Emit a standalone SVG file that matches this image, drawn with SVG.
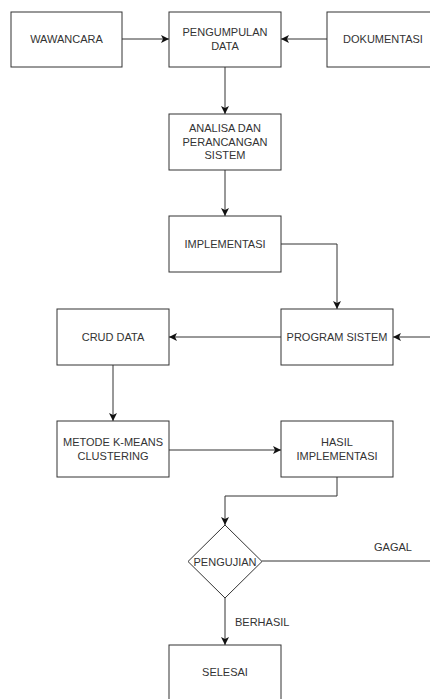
<svg xmlns="http://www.w3.org/2000/svg" width="430" height="699" viewBox="0 0 430 699">
<style>
.box{fill:#fff;stroke:#333;stroke-width:1}
.t{font-family:"Liberation Sans",Arial,sans-serif;font-size:11px;fill:#333;text-anchor:middle;dominant-baseline:central}
.c{fill:none;stroke:#333;stroke-width:1}
.lbl{font-family:"Liberation Sans",Arial,sans-serif;font-size:11px;fill:#333;dominant-baseline:central}
</style>
<defs>
<marker id="ah" viewBox="0 0 8 8" refX="8" refY="4" markerWidth="8" markerHeight="8" markerUnits="userSpaceOnUse" orient="auto">
<path d="M0,0 L8,4 L0,8 L2,4 Z" fill="#111"/>
</marker>
</defs>
<rect width="430" height="699" fill="#fff"/>
<g id="connectors">
<path class="c" d="M122,39 H169" marker-end="url(#ah)"/>
<path class="c" d="M327,39 H281" marker-end="url(#ah)"/>
<path class="c" d="M225,67 V114" marker-end="url(#ah)"/>
<path class="c" d="M225,170 V216" marker-end="url(#ah)"/>
<path class="c" d="M281,244 H337 V309" marker-end="url(#ah)"/>
<path class="c" d="M281,337 H169" marker-end="url(#ah)"/>
<path class="c" d="M430,337 H393" marker-end="url(#ah)"/>
<path class="c" d="M113,365 V421" marker-end="url(#ah)"/>
<path class="c" d="M169,450 H281" marker-end="url(#ah)"/>
<path class="c" d="M337,477 V496 H225 V525" marker-end="url(#ah)"/>
<path class="c" d="M262,561 H430"/>
<path class="c" d="M225,598 V645" marker-end="url(#ah)"/>
<text class="lbl" x="374" y="547">GAGAL</text>
<text class="lbl" x="235" y="622">BERHASIL</text>
</g>
<g id="wawancara"><rect class="box" x="11" y="12" width="111" height="55"/><text class="t" x="66.5" y="39">WAWANCARA</text></g>
<g id="pengumpulan"><rect class="box" x="169" y="12" width="112" height="55"/><text class="t" x="225" y="32">PENGUMPULAN</text><text class="t" x="225" y="46">DATA</text></g>
<g id="dokumentasi"><rect class="box" x="327" y="12" width="112" height="55"/><text class="t" x="383" y="39">DOKUMENTASI</text></g>
<g id="analisa"><rect class="box" x="169" y="114" width="112" height="56"/><text class="t" x="225" y="128">ANALISA DAN</text><text class="t" x="225" y="141.5">PERANCANGAN</text><text class="t" x="225" y="155">SISTEM</text></g>
<g id="implementasi"><rect class="box" x="169" y="216" width="112" height="56"/><text class="t" x="225" y="244">IMPLEMENTASI</text></g>
<g id="program"><rect class="box" x="281" y="309" width="112" height="56"/><text class="t" x="337" y="337">PROGRAM SISTEM</text></g>
<g id="crud"><rect class="box" x="57" y="309" width="112" height="56"/><text class="t" x="113" y="337">CRUD DATA</text></g>
<g id="metode"><rect class="box" x="57" y="421" width="112" height="56"/><text class="t" x="113" y="442">METODE K-MEANS</text><text class="t" x="113" y="456">CLUSTERING</text></g>
<g id="hasil"><rect class="box" x="281" y="421" width="112" height="56"/><text class="t" x="337" y="442">HASIL</text><text class="t" x="337" y="456">IMPLEMENTASI</text></g>
<g id="pengujian"><path class="box" d="M225,525 L262,561.5 L225,598 L188,561.5 Z"/><text class="t" x="225" y="561.5">PENGUJIAN</text></g>
<g id="selesai"><rect class="box" x="169" y="645" width="112" height="56"/><text class="t" x="225" y="672">SELESAI</text></g>
</svg>
